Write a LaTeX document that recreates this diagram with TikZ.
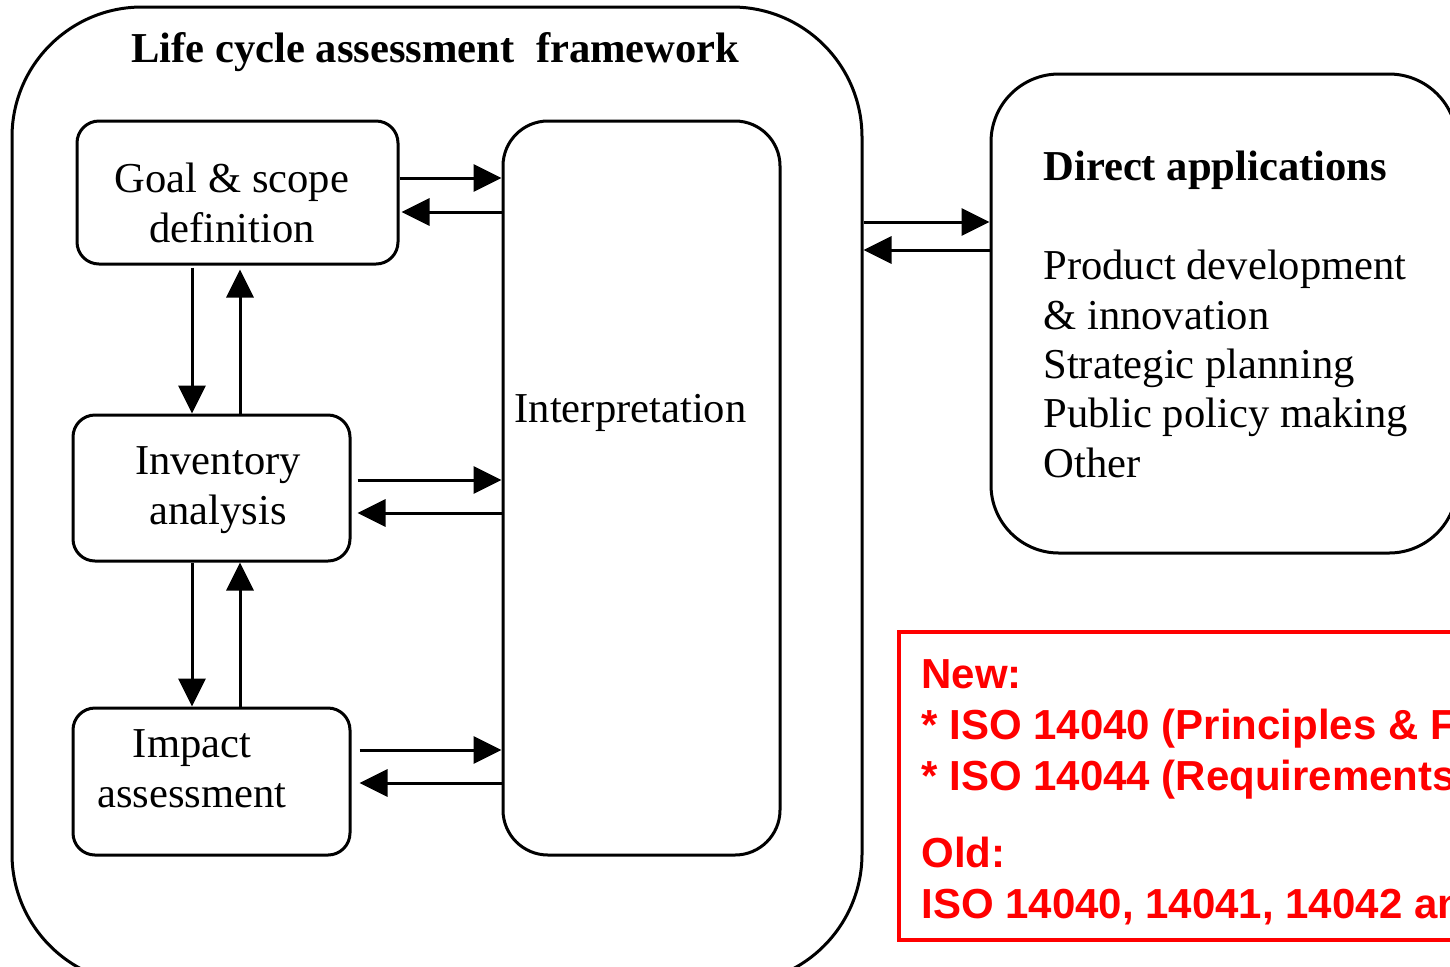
\documentclass[tikz,border=0pt]{standalone}
\usepackage{fontspec}
\setmainfont{Liberation Serif}
\newfontfamily\redsans{Liberation Sans}
\usetikzlibrary{arrows.meta}
\begin{document}
\begin{tikzpicture}[x=0.5pt, y=-0.5pt,
  box/.style={draw, line width=1.5pt, rounded corners=11pt, inner sep=0pt},
  arr/.style={line width=1.5pt, -{Triangle[length=14pt,width=13.5pt]}},
  txt/.style={inner sep=0pt, font=\fontsize{21.3}{25}\selectfont},
  redtxt/.style={inner sep=0pt, text=red, font=\redsans\bfseries\fontsize{21}{25.5}\selectfont}]
\useasboundingbox (0,0) rectangle (1450,966);
\clip (0,0) rectangle (1450,966);
% boxes
\node[box, rounded corners=65pt, minimum width=425pt, minimum height=488.5pt] (outer) at (437,495.5) {};
\node[box, minimum width=160.5pt, minimum height=71.5pt] (goal) at (237.5,192.5) {};
\node[box, minimum width=138.5pt, minimum height=73pt] (inv) at (211.5,488) {};
\node[box, minimum width=138.5pt, minimum height=73.5pt] (impact) at (211.5,781.5) {};
\node[box, rounded corners=22.5pt, minimum width=138.5pt, minimum height=367pt] (interp) at (641.5,488) {};
\node[box, rounded corners=34pt, minimum width=233pt, minimum height=239.5pt] (direct) at (1224,313.5) {};
\node[draw=red, line width=2pt, minimum width=450.5pt, minimum height=154pt, inner sep=0pt] (redbox) at (1349.5,786) {};
% texts (base anchor = baseline of the last line)
\node[txt, anchor=base west] (title) at (131,62) {\bfseries Life cycle assessment~ framework};
\node[txt, align=center, anchor=base] (goaltxt) at (232,242) {Goal \& scope\\definition};
\node[txt, align=center, anchor=base] (invtxt) at (218,524) {Inventory\\analysis};
\node[txt, align=center, anchor=base] (imptxt) at (192,807) {Impact\\assessment};
\node[txt, anchor=base] (interptxt) at (630.5,422) {Interpretation};
\node[txt, font=\fontsize{21.3}{24.65}\selectfont, align=left, anchor=base west] (directtxt) at (1043,477)
  {\textbf{Direct applications}\\[25pt]Product development\\\& innovation\\Strategic planning\\Public policy making\\Other};
\node[redtxt, align=left, anchor=base west] (isotxt) at (921,918)
  {New:\\* ISO 14040 (Principles \& Framework)\\* ISO 14044 (Requirements \& Guidelines)\\[13pt]Old:\\ISO 14040, 14041, 14042 and 14043};
% connectors
\draw[arr] (goal.east |- 0,178) -- (interp.west |- 0,178);
\draw[arr, shorten >=1pt] (interp.west |- 0,212) -- (goal.east |- 0,212);
\draw[arr, shorten <=1pt] (goal.south -| 192,0) -- (inv.north -| 192,0);
\draw[arr, shorten >=2pt] (inv.north -| 240,0) -- (goal.south -| 240,0);
\draw[arr, shorten <=3pt] (inv.east |- 0,480) -- (interp.west |- 0,480);
\draw[arr, shorten >=3pt] (interp.west |- 0,513) -- (inv.east |- 0,513);
\draw[arr] (inv.south -| 192,0) -- (impact.north -| 192,0);
\draw[arr] (impact.north -| 240,0) -- (inv.south -| 240,0);
\draw[arr, shorten <=4pt] (impact.east |- 0,750) -- (interp.west |- 0,750);
\draw[arr, shorten >=4pt] (interp.west |- 0,783) -- (impact.east |- 0,783);
\draw[arr] (outer.east |- 0,222) -- (direct.west |- 0,222);
\draw[arr] (direct.west |- 0,250) -- (outer.east |- 0,250);
\end{tikzpicture}
\end{document}
